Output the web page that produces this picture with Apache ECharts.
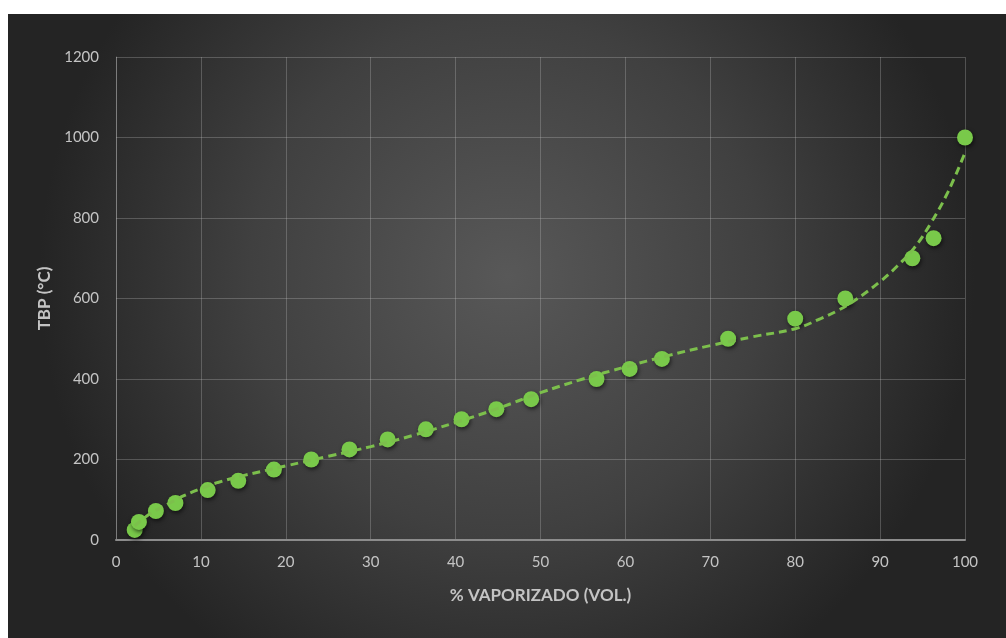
<!DOCTYPE html>
<html>
<head>
<meta charset="utf-8">
<script src="https://cdn.jsdelivr.net/npm/echarts@6/dist/echarts.min.js"></script>
<style>
html,body{margin:0;padding:0;background:#ffffff;}
#chart{position:absolute;left:8px;top:14px;width:998px;height:624px;}
</style>
</head>
<body>
<div id="chart"></div>
<script>
// % vaporized (vol.)
var vaporized = [2.2, 2.7, 4.7, 7.0, 10.8, 14.4, 18.6, 23.0, 27.5, 32.0, 36.5, 40.7, 44.8, 48.9, 56.6, 60.5, 64.3, 72.1, 80.0, 85.9, 93.8, 96.3, 100];
// TBP (°C)
var tbp = [25, 45, 72, 92, 124, 147, 175, 200, 225, 250, 275, 300, 325, 350, 400, 425, 450, 500, 550, 600, 700, 750, 1000];
// trendline
var trendX = [2.2, 4, 6, 8, 10, 12, 15, 20, 25, 30, 35, 40, 45, 50, 55, 60, 65, 70, 75, 80, 83, 85, 87, 90, 92, 94, 96, 98, 100];
var trendY = [35, 65, 88, 110, 128, 143, 160, 184, 208, 232, 260, 292, 327, 366, 400, 430, 458, 483, 505, 525, 550, 570, 595, 642, 680, 725, 788, 865, 962];
var xTicks = [0, 10, 20, 30, 40, 50, 60, 70, 80, 90, 100];
var yTicks = [0, 200, 400, 600, 800, 1000, 1200];

var pts = vaporized.map(function(v, i){ return [v, tbp[i]]; });
var trend = trendX.map(function(v, i){ return [v, trendY[i]]; });

var green = '#79c94a';
var labelColor = '#c4c4c4';
var font = 'Lato, "Open Sans", sans-serif';

var chart = echarts.init(document.getElementById('chart'));
chart.setOption({
  animation: false,
  backgroundColor: {
    type: 'radial', x: 0.5, y: 0.42, r: 0.75,
    colorStops: [
      {offset: 0, color: '#585858'},
      {offset: 0.55, color: '#404040'},
      {offset: 1, color: '#242424'}
    ]
  },
  grid: {left: 108, right: 41, top: 43, bottom: 98, containLabel: false},
  xAxis: {
    type: 'value', min: xTicks[0], max: xTicks[xTicks.length-1], interval: 10,
    name: '% VAPORIZADO (VOL.)', nameLocation: 'middle', nameGap: 47,
    nameTextStyle: {color: labelColor, fontSize: 17, fontWeight: 'bold', fontFamily: font},
    axisLine: {show: true, lineStyle: {color: '#8c8c8c', width: 2}},
    axisTick: {show: false},
    axisLabel: {color: labelColor, fontSize: 15, fontFamily: font, margin: 15,
      formatter: function(v){ return String(v); }},
    splitLine: {show: true, lineStyle: {color: 'rgba(200,200,200,0.28)', width: 1}}
  },
  yAxis: {
    type: 'value', min: yTicks[0], max: yTicks[yTicks.length-1], interval: 200,
    name: 'TBP (°C)', nameLocation: 'middle', nameGap: 62, nameRotate: 90,
    nameTextStyle: {color: labelColor, fontSize: 17, fontWeight: 'bold', fontFamily: font},
    axisLine: {show: true, lineStyle: {color: 'rgba(200,200,200,0.35)', width: 1}},
    axisTick: {show: false},
    axisLabel: {color: labelColor, fontSize: 15, fontFamily: font, margin: 17,
      formatter: function(v){ return String(v); }},
    splitLine: {show: true, lineStyle: {color: 'rgba(200,200,200,0.28)', width: 1}}
  },
  series: [
    {
      type: 'scatter', data: pts, symbol: 'circle', symbolSize: 16, z: 2,
      itemStyle: {color: green, opacity: 1, shadowBlur: 4, shadowColor: 'rgba(0,0,0,0.6)', shadowOffsetX: 1, shadowOffsetY: 2}
    },
    {
      type: 'line', data: trend, smooth: 0.4, showSymbol: false, z: 3,
      lineStyle: {color: '#7cbf4c', width: 3, type: [8, 5]}
    }
  ]
});
</script>
</body>
</html>
